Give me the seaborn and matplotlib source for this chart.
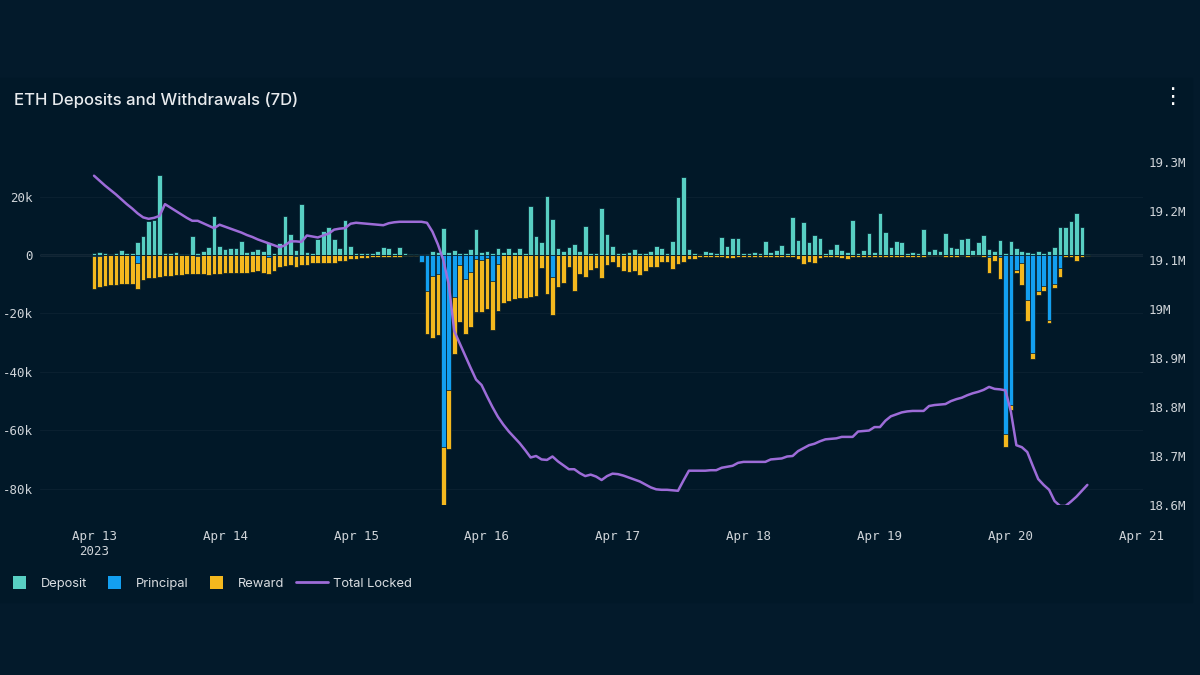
import matplotlib
matplotlib.use("Agg")
import matplotlib.pyplot as plt
import seaborn as sns
from matplotlib.patches import Rectangle
from matplotlib.lines import Line2D
from matplotlib.legend_handler import HandlerPatch
from matplotlib.ticker import FuncFormatter

# hourly buckets starting Apr 13 2023 00:00 (values in k ETH)
hours = list(range(183))

deposit = [
    0.8, 1.0, 0.6, 0.5, 0.6, 1.6, 0.8, 0.8, 4.5, 6.4,
    11.7, 12.0, 27.2, 0.6, 0.8, 1.0, 0.4, 0.4, 6.4, 0.7,
    1.3, 2.8, 13.2, 3.0, 2.0, 2.3, 2.3, 4.7, 0.9, 1.4,
    1.9, 1.5, 4.0, 0.8, 4.1, 13.3, 7.2, 1.7, 17.6, 1.0,
    0.6, 5.5, 8.2, 9.7, 5.5, 2.5, 12.0, 3.1, 0.8, 0.8,
    0.8, 0.8, 1.5, 2.6, 2.3, 0.6, 2.6, 0.6, 0.5, 0.5,
    0.0, 0.3, 1.5, 1.0, 9.3, 1.1, 1.7, 0.6, 0.6, 1.9,
    8.8, 0.9, 1.5, 0.6, 2.3, 1.1, 2.3, 1.1, 2.3, 0.6,
    16.9, 6.6, 4.6, 20.3, 12.2, 2.3, 1.5, 2.8, 3.6, 1.5,
    9.9, 0.6, 0.6, 16.2, 7.2, 3.1, 0.8, 0.8, 1.1, 1.9,
    0.6, 0.6, 1.4, 3.1, 2.3, 0.8, 4.8, 19.9, 26.5, 2.2,
    0.8, 0.4, 1.5, 1.0, 0.6, 6.3, 3.2, 5.8, 5.8, 0.8,
    0.8, 1.1, 0.6, 4.7, 1.1, 1.7, 3.4, 0.6, 13.1, 5.1,
    11.3, 4.3, 7.0, 5.7, 0.6, 1.9, 3.9, 1.7, 1.1, 11.9,
    0.6, 1.7, 7.4, 1.1, 14.5, 7.7, 2.8, 4.7, 4.3, 0.6,
    1.0, 0.6, 8.8, 1.5, 1.9, 1.5, 7.4, 2.8, 2.3, 5.4,
    5.7, 1.7, 4.6, 6.8, 1.9, 1.4, 5.2, 0.6, 4.8, 2.3,
    1.5, 1.0, 0.6, 1.2, 0.8, 1.4, 2.8, 9.7, 9.7, 11.7,
    14.2, 9.5, 0.3,
]

principal = [
    0.3, 0.2, 0, 0, 0, 0, 0, 0, 2.8, 0,
    0, 0, 0, 0, 0, 0, 0, 0, 0, 0.3,
    0, 0, 0, 0, 0, 0, 0, 0, 0, 0,
    0, 0, 0.8, 0, 0, 0, 0, 0.5, 0, 0,
    0, 0, 0, 0, 0, 0, 0, 0, 0, 0,
    0, 0, 0, 0, 0, 0, 0, 0, 0, 0,
    2.3, 12.2, 7.2, 6.6, 65.5, 46.2, 14.5, 3.4, 8.2, 5.9,
    1.5, 1.7, 1.0, 8.8, 3.1, 0, 0, 0, 0, 0,
    0, 0, 0, 0, 7.6, 0, 0, 0, 0, 0,
    0, 0, 0, 0, 0, 0, 0, 0, 0, 0,
    0, 0, 0, 0, 0, 0, 0, 0, 0, 0,
    0, 0, 0, 0, 0, 0, 0, 0, 0, 0,
    0, 0, 0, 0, 0, 0, 0, 0, 0, 0,
    0, 0, 0, 0, 0, 0, 0, 0, 0, 0,
    0, 0, 0, 0, 0, 0, 0, 0, 0, 0,
    0, 0, 0, 0, 0, 0, 0, 0, 0, 0,
    0, 0, 0, 0, 0.6, 0, 0.6, 61.2, 51.3, 5.1,
    2.8, 15.4, 33.4, 12.3, 10.6, 22.2, 9.9, 4.3, 0, 0,
    0, 0, 0,
]

reward = [
    11.2, 10.9, 10.6, 10.4, 10.1, 10.0, 9.9, 9.8, 9.0, 8.5,
    8.0, 7.8, 7.5, 7.2, 7.1, 7.0, 6.8, 6.6, 6.5, 6.3,
    6.5, 6.8, 6.4, 6.4, 6.2, 6.2, 6.2, 6.0, 6.0, 5.7,
    5.6, 6.0, 5.7, 5.5, 4.2, 3.8, 3.4, 3.5, 3.4, 3.4,
    2.6, 2.8, 2.6, 2.6, 2.8, 2.0, 2.0, 1.5, 1.3, 1.0,
    1.0, 0.8, 0.8, 0.6, 0.6, 0.6, 0.6, 0.5, 0.5, 0.5,
    0.2, 14.8, 21.3, 20.7, 20.2, 20.2, 19.5, 19.5, 18.9, 18.6,
    18.1, 17.7, 17.4, 16.9, 16.0, 16.3, 15.6, 15.0, 14.8, 14.6,
    14.2, 13.9, 4.6, 13.4, 12.9, 10.8, 9.7, 4.2, 12.2, 6.5,
    7.4, 5.1, 4.6, 8.0, 3.4, 2.3, 4.0, 5.4, 5.9, 5.4,
    6.8, 5.5, 4.2, 4.2, 2.3, 2.3, 4.8, 3.1, 2.4, 1.3,
    1.3, 0.6, 0.8, 0.6, 0.6, 0.8, 1.2, 1.2, 0.6, 0.6,
    0.7, 0.8, 0.6, 0.6, 0.6, 0.6, 0.6, 0.6, 0.6, 1.4,
    3.1, 2.3, 2.8, 1.0, 0.8, 0.8, 0.6, 1.0, 1.3, 0.6,
    0.6, 0.6, 0.6, 0.6, 0.6, 0.6, 0.8, 0.8, 0.6, 0.6,
    0.6, 0.6, 0.6, 0.4, 0.4, 0.4, 0.6, 0.6, 0.6, 0.4,
    0.6, 0.4, 0.4, 0.6, 5.7, 1.9, 7.7, 4.3, 1.7, 1.1,
    7.6, 7.2, 2.3, 1.4, 1.7, 0.9, 1.5, 3.3, 0.6, 0.6,
    1.9, 0.6, 0.3,
]

# total locked, millions of ETH
total_locked = [
    19.272, 19.262, 19.252, 19.243, 19.234, 19.224, 19.214, 19.205, 19.195, 19.187,
    19.184, 19.186, 19.190, 19.214, 19.207, 19.200, 19.193, 19.186, 19.180, 19.180,
    19.175, 19.170, 19.165, 19.172, 19.168, 19.164, 19.160, 19.156, 19.151, 19.147,
    19.142, 19.138, 19.134, 19.130, 19.126, 19.130, 19.138, 19.138, 19.137, 19.150,
    19.148, 19.146, 19.150, 19.154, 19.162, 19.164, 19.165, 19.174, 19.176, 19.175,
    19.174, 19.173, 19.172, 19.171, 19.175, 19.177, 19.178, 19.178, 19.178, 19.178,
    19.178, 19.176, 19.158, 19.132, 19.100, 19.050, 18.955, 18.930, 18.905, 18.880,
    18.856, 18.845, 18.822, 18.800, 18.780, 18.764, 18.750, 18.738, 18.726, 18.712,
    18.697, 18.700, 18.693, 18.692, 18.699, 18.689, 18.681, 18.673, 18.673, 18.665,
    18.659, 18.662, 18.658, 18.651, 18.659, 18.664, 18.663, 18.660, 18.656, 18.652,
    18.648, 18.642, 18.636, 18.632, 18.631, 18.631, 18.630, 18.629, 18.650, 18.670,
    18.670, 18.670, 18.670, 18.671, 18.671, 18.676, 18.678, 18.680, 18.686, 18.688,
    18.688, 18.688, 18.688, 18.688, 18.693, 18.694, 18.695, 18.699, 18.700, 18.710,
    18.716, 18.722, 18.725, 18.730, 18.734, 18.735, 18.736, 18.739, 18.739, 18.739,
    18.750, 18.751, 18.752, 18.759, 18.759, 18.772, 18.781, 18.785, 18.789, 18.791,
    18.792, 18.792, 18.792, 18.802, 18.804, 18.805, 18.806, 18.812, 18.816, 18.819,
    18.824, 18.828, 18.831, 18.835, 18.841, 18.837, 18.836, 18.834, 18.790, 18.722,
    18.718, 18.708, 18.680, 18.653, 18.641, 18.631, 18.608, 18.598, 18.598, 18.607,
    18.617, 18.629, 18.641,
]

day_ticks = [0, 24, 48, 72, 96, 120, 144, 168, 192]
day_labels = ["Apr 13\n2023", "Apr 14", "Apr 15", "Apr 16", "Apr 17",
              "Apr 18", "Apr 19", "Apr 20", "Apr 21"]
left_ticks = [20, 0, -20, -40, -60, -80]
right_ticks = [18.6, 18.7, 18.8, 18.9, 19.0, 19.1, 19.2, 19.3]

OUTER = "#031a2b"
PANEL = "#011828"
C_DEP = "#58cfc3"
C_PRIN = "#139ff0"
C_REW = "#f4b81e"
C_LINE = "#9d6cd8"
TXT = "#cfd4d9"
MONO = "DejaVu Sans Mono"

sns.set_theme(style="dark", rc={"axes.facecolor": PANEL, "figure.facecolor": OUTER})
plt.rcParams["font.family"] = ["Inter", "DejaVu Sans"]

fig = plt.figure(figsize=(12, 6.75), dpi=100)
fig.patches.append(Rectangle((0, (675 - 602) / 675), 1192 / 1200, (602 - 78) / 675,
                             transform=fig.transFigure, color=PANEL, zorder=-1))

ax = fig.add_axes([40 / 1200, (675 - 505) / 675, (1143 - 40) / 1200, (505 - 162) / 675])
ax.set_facecolor("none")

neg_total = [-(p + r) for p, r in zip(principal, reward)]
neg_prin = [-p for p in principal]

bar_kw = dict(native_scale=True, orient="x", saturation=1, width=0.86,
              edgecolor=PANEL, linewidth=0.5, errorbar=None, ax=ax)
sns.barplot(x=hours, y=deposit, color=C_DEP, **bar_kw)
sns.barplot(x=hours, y=neg_total, color=C_REW, **bar_kw)
sns.barplot(x=hours, y=neg_prin, color=C_PRIN, **bar_kw)

ax.axhline(0, color="#5d6874", lw=1, zorder=0.5)
ax.set_ylim(-85.5, 31.8)
ax.set_yticks(left_ticks)
ax.yaxis.set_major_formatter(FuncFormatter(lambda v, p: "0" if v == 0 else f"{int(v)}k"))
ax.yaxis.grid(True, color="#0a2030", lw=0.8)
ax.xaxis.grid(False)
ax.set_axisbelow(True)

ax2 = ax.twinx()
sns.lineplot(x=hours, y=total_locked, color=C_LINE, lw=1.8, ax=ax2)
ax2.set_ylim(18.6, 19.3)
ax2.set_yticks(right_ticks)
ax2.set_yticklabels(["18.6M", "18.7M", "18.8M", "18.9M", "19M", "19.1M", "19.2M", "19.3M"])
ax2.grid(False)

ax.set_xlim(-9.9, 192.2)
ax.set_xticks(day_ticks)
ax.set_xticklabels(day_labels)

for a in (ax, ax2):
    a.set_xlabel("")
    a.set_ylabel("")
    for s in a.spines.values():
        s.set_visible(False)
    a.tick_params(length=0, colors=TXT, labelsize=9)
    for lab in a.get_xticklabels() + a.get_yticklabels():
        lab.set_family(MONO)
ax.tick_params(axis="x", pad=18)
ax.tick_params(axis="y", pad=5)
ax2.tick_params(axis="y", pad=4)

fig.text(14 / 1200, 1 - 100 / 675, "ETH Deposits and Withdrawals (7D)",
         fontsize=12, color="#e8ebee", va="center", ha="left", fontweight="medium")
fig.text(1172 / 1200, 1 - 97 / 675, "\u22ee", fontsize=16, color="white",
         ha="center", va="center", family="DejaVu Sans")


class SquareHandler(HandlerPatch):
    def create_artists(self, legend, orig_handle, xdescent, ydescent,
                       width, height, fontsize, trans):
        s = fontsize * 1.0
        x0 = -xdescent + (width - s) / 2
        y0 = -ydescent + (height - s) / 2
        return [Rectangle((x0, y0), s, s, facecolor=orig_handle.get_facecolor(),
                          edgecolor="none", transform=trans)]


handles = [Rectangle((0, 0), 1, 1, color=C_DEP), Rectangle((0, 0), 1, 1, color=C_PRIN),
           Rectangle((0, 0), 1, 1, color=C_REW), Line2D([], [], color=C_LINE, lw=2)]
fig.legend(handles, ["Deposit", "Principal", "Reward", "Total Locked"],
           loc="center left", bbox_to_anchor=(3 / 1200, 1 - 584 / 675), ncol=4,
           frameon=False, fontsize=9.3, labelcolor="#d9dde1",
           handler_map={Rectangle: SquareHandler()}, handlelength=2.5,
           handletextpad=0.4, columnspacing=0.9, borderpad=0, borderaxespad=0)

fig.savefig("out.png", dpi=100, facecolor=OUTER)
